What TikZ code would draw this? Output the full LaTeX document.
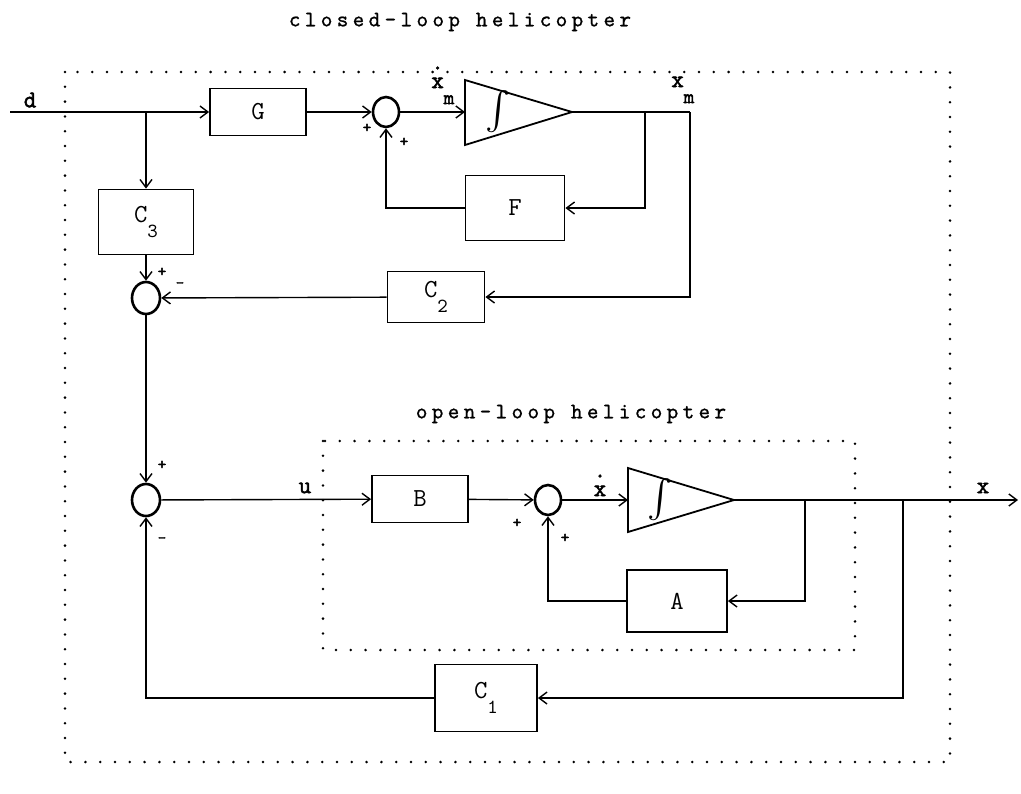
\documentclass[tikz,border=0pt]{standalone}
\usepackage{fontspec}
\setmonofont{Latin Modern Mono}
\newfontfamily\titlefont[LetterSpace=20,FakeBold=1]{Latin Modern Mono}
\newfontfamily\heavymono[FakeBold=2.5]{Latin Modern Mono}
\usetikzlibrary{arrows.meta,positioning,calc,shapes.geometric}
\tikzset{
  block/.style={draw, line width=0.9pt, inner sep=0pt, font=\ttfamily\fontsize{13}{15}\selectfont},
  summer/.style={draw, ellipse, line width=1.3pt, minimum width=13pt, minimum height=15pt, inner sep=0pt},
  arrow/.style={-{Straight Barb[length=4pt,width=6pt]}, line width=0.7pt},
  link/.style={line width=0.7pt},
  integ/.style={line width=0.9pt},
  intsign/.style={inner sep=0pt},
  sign/.style={font=\heavymono\fontsize{8}{9}\selectfont, inner sep=0pt},
  signal/.style={font=\heavymono\fontsize{12}{14}\selectfont, inner sep=0pt},
  frame/.style={line width=1.4pt, dash pattern=on 0pt off 7.4pt, line cap=round},
  heading/.style={font=\titlefont\fontsize{11}{13}\selectfont, inner sep=0pt}
}
\newcommand{\lowidx}[2]{#1\raisebox{-1.4ex}{\fontsize{10}{12}\selectfont #2}}
\newcommand{\dotx}{\ooalign{x\cr\hidewidth\raisebox{1.8ex}{.}\hidewidth\cr}}

\begin{document}
\begin{tikzpicture}[x=0.5pt, y=-0.5pt]
  \useasboundingbox (0,0) rectangle (1021,793);

  % frames
  \draw[frame] (65,72) rectangle (950,762);
  \draw[frame] (323,441) rectangle (855,650);
  \node[heading] (cltitle) at (460,22) {closed-loop helicopter};
  \node[heading] (oltitle) at (571,414) {open-loop helicopter};

  % closed-loop part
  \node[block, minimum width=48pt, minimum height=23.5pt] (G) at (258,112) {G};
  \node[summer] (sum1) at (386,112) {};
  \coordinate (int1in) at (465,112);
  \coordinate (int1out) at (572,112);
  \draw[integ] (465,80) -- (int1out) -- (465,145) -- cycle;
  \node[intsign] (int1sym) at (498,112) {\scalebox{1.9}{$\int$}};
  \node[block, minimum width=49.5pt, minimum height=32.5pt] (F) at (515,208) {F};
  \node[block, minimum width=47.5pt, minimum height=32.5pt] (C3) at (146,222) {\lowidx{C}{3}};
  \node[block, minimum width=48.5pt, minimum height=25.5pt] (C2) at (436,297) {\lowidx{C}{2}};
  \node[summer, minimum width=14pt, minimum height=16pt] (sum2) at (146,298) {};

  % open-loop part
  \node[summer, minimum width=14pt, minimum height=16pt] (sum3) at (146,500) {};
  \node[block, minimum width=48pt, minimum height=23.5pt] (B) at (420,499) {B};
  \node[summer] (sum4) at (548,500) {};
  \coordinate (int2in) at (628,500);
  \coordinate (int2out) at (734,500);
  \draw[integ] (628,468) -- (int2out) -- (628,532) -- cycle;
  \node[intsign] (int2sym) at (660,500) {\scalebox{1.9}{$\int$}};
  \node[block, minimum width=50pt, minimum height=31pt] (A) at (677,601) {A};
  \node[block, minimum width=51pt, minimum height=33.5pt] (C1) at (486,698) {\lowidx{C}{1}};

  % signals
  \coordinate (din) at (10,112);
  \coordinate (dsplit) at (146,112);
  \coordinate (xmsplit) at (645,112);
  \coordinate (xmcorner) at (690,112);
  \coordinate (xsplit) at (805,500);
  \coordinate (xsplit2) at (903,500);
  \coordinate (xout) at (1018,500);

  \draw[arrow] (din) -- (G);
  \draw[arrow] (dsplit) -- (C3);
  \draw[arrow] (G) -- (sum1);
  \draw[arrow] (sum1) -- (int1in);
  \draw[link] (int1out) -- (xmcorner);
  \draw[arrow] (xmsplit) |- (F);
  \draw[arrow] (F) -| (sum1);
  \draw[arrow] (xmcorner) |- (C2);
  \draw[arrow] (C2) -- (sum2);
  \draw[arrow] (C3) -- (sum2);
  \draw[arrow] (sum2) -- (sum3);
  \draw[arrow] (sum3) -- (B);
  \draw[arrow] (B) -- (sum4);
  \draw[arrow] (sum4) -- (int2in);
  \draw[arrow] (int2out) -- (xout);
  \draw[arrow] (xsplit) |- (A);
  \draw[arrow] (A) -| (sum4);
  \draw[arrow] (xsplit2) |- (C1);
  \draw[arrow] (C1) -| (sum3);

  % labels
  \node[signal] (dlabel) at (30,100) {d};
  \node[signal, anchor=base west] (xmdot) at (431,88) {\dotx\raisebox{-8pt}{\fontsize{10}{12}\selectfont m}};
  \node[signal, anchor=base west] (xmlabel) at (671,87) {x\raisebox{-8pt}{\fontsize{10}{12}\selectfont m}};
  \node[signal] (ulabel) at (305,488) {u};
  \node[signal, anchor=base] (xdot) at (600,496) {\dotx};
  \node[signal] (xlabel) at (983,488) {x};

  \node[sign] at (367,128) {+};
  \node[sign] at (404,142) {+};
  \node[sign] at (162,272) {+};
  \node[sign] at (180,285) {-};
  \node[sign] at (162,465) {+};
  \node[sign] at (162,540) {-};
  \node[sign] at (517,523) {+};
  \node[sign] at (565,538) {+};
\end{tikzpicture}
\end{document}
